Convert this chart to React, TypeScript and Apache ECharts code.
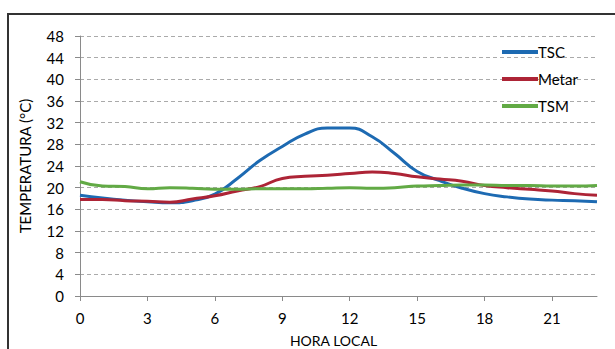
import React, { useEffect, useRef } from "react";
import * as echarts from "echarts";

// Hourly temperatures (°C) by local hour
const hours: string[] = Array.from({ length: 24 }, (_, i) => String(i));
const tscValues: number[] = [18.6, 18.1, 17.7, 17.4, 17.2, 17.6, 18.8, 21.7, 25.0, 27.6, 29.9, 31.0, 31.0, 29.4, 26.3, 23.0, 21.3, 19.9, 18.9, 18.3, 17.9, 17.7, 17.6, 17.4];
const metarValues: number[] = [17.8, 17.8, 17.6, 17.5, 17.3, 17.9, 18.5, 19.4, 20.2, 21.7, 22.1, 22.3, 22.6, 22.9, 22.6, 22.0, 21.6, 21.2, 20.4, 20.0, 19.7, 19.4, 18.9, 18.6];
const tsmValues: number[] = [21.1, 20.3, 20.2, 19.8, 20.0, 19.9, 19.7, 19.7, 19.8, 19.8, 19.8, 19.9, 20.0, 19.9, 20.0, 20.3, 20.4, 20.5, 20.5, 20.4, 20.4, 20.3, 20.3, 20.4];

const FONT = "Lato, 'Open Sans', sans-serif";

export default function App() {
  const ref = useRef<HTMLDivElement>(null);

  useEffect(() => {
    if (!ref.current) return;
    document.body.style.margin = "0";
    const chart = echarts.init(ref.current, undefined, { renderer: "svg", width: 615, height: 349 });
    const axisGray = "#8a8a8a";
    chart.setOption({
      animation: false,
      backgroundColor: "#ffffff",
      textStyle: { fontFamily: FONT },
      graphic: [
        {
          type: "rect",
          shape: { x: 8, y: 14, width: 700, height: 400 },
          style: { fill: "none", stroke: "#333333", lineWidth: 2 },
          silent: true,
        },
      ],
      grid: { left: 80, right: 18, top: 36, bottom: 53, outerBoundsMode: "none", containLabel: false },
      legend: {
        orient: "vertical",
        left: 497,
        top: 39,
        itemWidth: 36,
        itemHeight: 4,
        itemGap: 11,
        icon: "rect",
        textStyle: { fontSize: 15, color: "#000", fontFamily: FONT, padding: [0, 0, 0, -5], lineHeight: 16 },
        data: ["TSC", "Metar", "TSM"],
      },
      xAxis: {
        type: "category",
        data: hours,
        boundaryGap: false,
        name: "HORA LOCAL",
        nameLocation: "middle",
        nameGap: 37,
        nameTextStyle: { fontSize: 14, color: "#000", fontFamily: FONT, padding: [0, 10, 0, 0] },
        axisLine: { lineStyle: { color: axisGray, width: 1 } },
        axisTick: { show: true, interval: 2, length: 5, lineStyle: { color: axisGray } },
        axisLabel: { interval: 2, margin: 14, fontSize: 15, color: "#000", fontFamily: FONT },
        splitLine: { show: false },
      },
      yAxis: {
        type: "value",
        min: 0,
        max: 48,
        interval: 4,
        name: "TEMPERATURA (°C)",
        nameLocation: "middle",
        nameGap: 48,
        nameTextStyle: { fontSize: 15, color: "#000", fontFamily: FONT },
        axisLine: { show: true, lineStyle: { color: axisGray, width: 1 } },
        axisTick: { show: true, length: 5, lineStyle: { color: axisGray } },
        axisLabel: { margin: 16, fontSize: 15, color: "#000", fontFamily: FONT },
        splitLine: { show: true, lineStyle: { color: "#aaaaaa", type: [4, 3], width: 1 } },
      },
      series: [
        {
          name: "TSC",
          type: "line",
          data: tscValues,
          smooth: 0.5,
          showSymbol: false,
          lineStyle: { width: 3, color: "#1d6ab2" },
          itemStyle: { color: "#1d6ab2" },
          z: 3,
        },
        {
          name: "Metar",
          type: "line",
          data: metarValues,
          smooth: 0.5,
          showSymbol: false,
          lineStyle: { width: 3, color: "#ad2436" },
          itemStyle: { color: "#ad2436" },
          z: 4,
        },
        {
          name: "TSM",
          type: "line",
          data: tsmValues,
          smooth: 0.5,
          showSymbol: false,
          lineStyle: { width: 3, color: "#62aa45" },
          itemStyle: { color: "#62aa45" },
          z: 5,
        },
      ],
    });
    return () => chart.dispose();
  }, []);

  return <div ref={ref} style={{ width: 615, height: 349 }} />;
}
